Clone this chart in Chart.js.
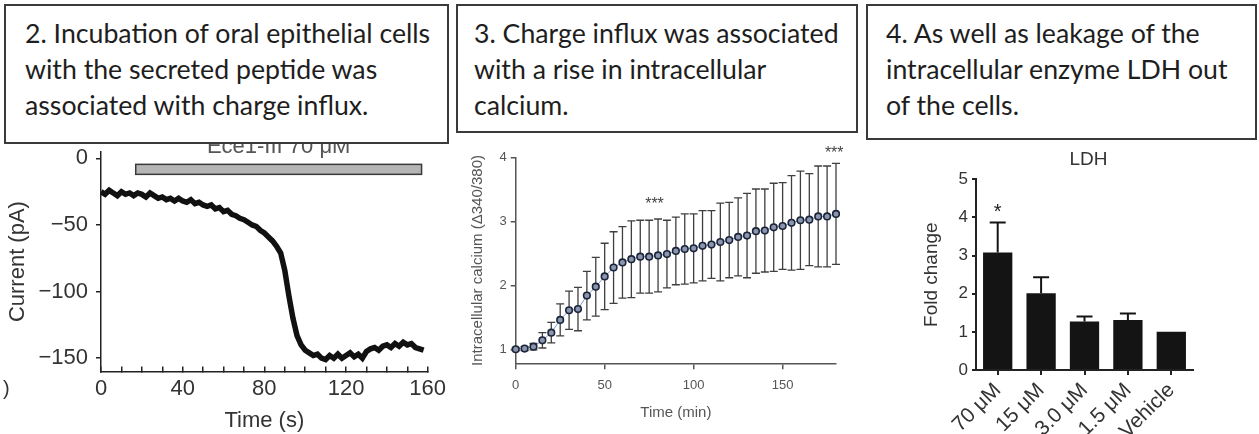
<!DOCTYPE html>
<html>
<head>
<meta charset="utf-8">
<script src="https://cdn.jsdelivr.net/npm/chart.js@4.4.1/dist/chart.umd.min.js"></script>
<style>
    body { margin: 0; background: #fff; }
    #page { position: relative; width: 1259px; height: 434px; overflow: hidden; background: #fff; }
    .box {
        position: absolute; z-index: 2; top: 4px; box-sizing: border-box;
        background: #fff; border: 2px solid #3a3a3a;
        font-family: Lato, sans-serif; font-size: 26.7px; line-height: 36px; color: #1e1e1e;
        white-space: nowrap; padding-top: 9px;
    }
    .plot { position: absolute; top: 140px; height: 294px; }
    #stray { position: absolute; left: 3px; top: 377px; font: 20px "Liberation Sans"; color: #333; }
</style>
</head>
<body>
<div id="page">
    <div class="box" style="left:4px;width:445px;height:140px;padding-left:19px;">2. Incubation of oral epithelial cells<br>with the secreted peptide was<br>associated with charge influx.</div>
    <div class="box" style="left:456px;width:402px;height:129px;padding-left:16px;">3. Charge influx was associated<br>with a rise in intracellular<br>calcium.</div>
    <div class="box" style="left:866px;width:391px;height:136px;padding-left:18px;">4. As well as leakage of the<br>intracellular enzyme LDH out<br>of the cells.</div>

    <div class="plot" style="left:0;width:450px;"><canvas id="currentChart"></canvas></div>
    <div class="plot" style="left:455px;width:400px;"><canvas id="calciumChart"></canvas></div>
    <div class="plot" style="left:860px;width:399px;"><canvas id="ldhChart"></canvas></div>
    <div id="stray">)</div>
</div>

<script>
// --- panel 2: whole-cell current trace
const currentTime = [0, 2, 4, 6, 8, 10, 12, 14, 16, 18, 20, 22, 24, 26, 28, 30, 32, 34, 36, 38,
    40, 42, 44, 46, 48, 50, 52, 54, 56, 58, 60, 62, 64, 66, 68, 70, 72, 74, 76, 78,
    80, 82, 84, 86, 88, 90, 92, 94, 96, 98, 100, 102, 104, 106, 108, 110, 112, 114, 116, 118,
    120, 122, 124, 126, 128, 130, 132, 134, 136, 138, 140, 142, 144, 146, 148, 150, 152, 154, 156, 158];
const currentPa = [-25, -27, -24, -26, -28, -25, -27, -26, -28, -26, -27, -29, -26, -28, -30, -29, -31, -30, -32, -30,
    -32, -33, -31, -34, -33, -35, -36, -35, -38, -37, -40, -39, -42, -43, -45, -46, -48, -50, -51, -54,
    -56, -59, -62, -66, -71, -84, -103, -120, -133, -140, -144, -146, -148, -147, -150, -151, -148, -150, -147, -150,
    -148, -146, -149, -147, -150, -145, -143, -142, -144, -141, -140, -142, -139, -141, -138, -140, -139, -142, -143, -144];
const currentXTicks = [0, 40, 80, 120, 160];
const currentYTicks = [0, -50, -100, -150];
const drugLabel = 'Ece1-III 70 \u03bcM';
const drugTime = [17, 157];

// --- panel 3: intracellular calcium
const calciumTime = [0, 5, 10, 15, 20, 25, 30, 35, 40, 45, 50, 55, 60, 65, 70, 75, 80, 85, 90,
    95, 100, 105, 110, 115, 120, 125, 130, 135, 140, 145, 150, 155, 160, 165, 170, 175, 180];
const calciumMean = [1.00, 1.01, 1.04, 1.14, 1.26, 1.46, 1.61, 1.63, 1.84, 1.98, 2.14, 2.28, 2.36, 2.41, 2.45, 2.45, 2.47, 2.49, 2.54,
    2.57, 2.58, 2.62, 2.64, 2.68, 2.71, 2.76, 2.78, 2.85, 2.86, 2.91, 2.93, 2.98, 3.02, 3.03, 3.08, 3.08, 3.12];
const calciumErr = [0.02, 0.03, 0.05, 0.12, 0.16, 0.25, 0.30, 0.34, 0.38, 0.46, 0.52, 0.56, 0.56, 0.60, 0.57, 0.57, 0.57, 0.53, 0.53,
    0.55, 0.54, 0.55, 0.53, 0.61, 0.59, 0.61, 0.66, 0.66, 0.65, 0.69, 0.68, 0.74, 0.77, 0.72, 0.79, 0.79, 0.79];
const calciumXTicks = [0, 50, 100, 150];
const calciumYTicks = [1, 2, 3, 4];
const calciumStars = [[78, 3.33], [179, 4.13]];

// --- panel 4: LDH release
const ldhGroups = ['70 \u03bcM', '15 \u03bcM', '3.0 \u03bcM', '1.5 \u03bcM', 'Vehicle'];
const ldhFold = [3.08, 2.01, 1.27, 1.31, 1.00];
const ldhErr = [0.79, 0.42, 0.13, 0.17, 0];
const ldhStar = [0, 4.30];

const SANS = 'Liberation Sans';

function tickFont(size) {
    return { family: SANS, size: size };
}

// chart.js pads the chart area for edge tick labels; the axes here are placed by hand
function fixedAxis(size) {
    return s => {
        if (s.isHorizontal()) s.height = size; else s.width = size;
        s.paddingTop = s.paddingBottom = s.paddingLeft = s.paddingRight = 0;
    };
}

const drugBarPlugin = {
    id: 'drugBar',
    afterDatasetsDraw(chart) {
        const { ctx, scales: { x, y } } = chart;
        const x0 = x.getPixelForValue(drugTime[0]);
        const x1 = x.getPixelForValue(drugTime[1]);
        const top = y.getPixelForValue(-4.5);
        const bot = y.getPixelForValue(-12);
        ctx.save();
        ctx.fillStyle = '#b5b5b5';
        ctx.strokeStyle = '#3a3a3a';
        ctx.lineWidth = 1.5;
        ctx.fillRect(x0, top, x1 - x0, bot - top);
        ctx.strokeRect(x0, top, x1 - x0, bot - top);
        ctx.fillStyle = '#555';
        ctx.font = '22px "' + SANS + '"';
        ctx.textAlign = 'center';
        ctx.textBaseline = 'alphabetic';
        ctx.fillText(drugLabel, (x0 + x1) / 2, top - 11);
        ctx.restore();
    }
};

const calciumErrorPlugin = {
    id: 'calciumErr',
    beforeDatasetsDraw(chart) {
        const { ctx, scales: { x, y } } = chart;
        ctx.save();
        ctx.strokeStyle = '#3f3f3f';
        ctx.lineWidth = 1.3;
        calciumTime.forEach((t, i) => {
            const px = x.getPixelForValue(t);
            const hi = y.getPixelForValue(calciumMean[i] + calciumErr[i]);
            const lo = y.getPixelForValue(calciumMean[i] - calciumErr[i]);
            ctx.beginPath();
            ctx.moveTo(px, hi); ctx.lineTo(px, lo);
            ctx.moveTo(px - 4, hi); ctx.lineTo(px + 4, hi);
            ctx.moveTo(px - 4, lo); ctx.lineTo(px + 4, lo);
            ctx.stroke();
        });
        ctx.fillStyle = '#444';
        ctx.font = '16px "' + SANS + '"';
        ctx.textAlign = 'center';
        calciumStars.forEach(([t, v]) => {
            ctx.fillText('***', x.getPixelForValue(t), y.getPixelForValue(v) + 9);
        });
        ctx.restore();
    }
};

const ldhExtrasPlugin = {
    id: 'ldhExtras',
    afterDatasetsDraw(chart) {
        const { ctx, chartArea, scales: { x, y } } = chart;
        ctx.save();
        ctx.strokeStyle = '#141414';
        ctx.lineWidth = 2;
        ldhFold.forEach((v, i) => {
            if (!ldhErr[i]) return;
            const px = x.getPixelForValue(i);
            const top = y.getPixelForValue(v + ldhErr[i]);
            ctx.beginPath();
            ctx.moveTo(px, y.getPixelForValue(v)); ctx.lineTo(px, top);
            ctx.moveTo(px - 8, top); ctx.lineTo(px + 8, top);
            ctx.stroke();
        });
        ctx.fillStyle = '#222';
        ctx.textAlign = 'center';
        ctx.font = '20px "' + SANS + '"';
        ctx.fillText('*', x.getPixelForValue(ldhStar[0]), y.getPixelForValue(ldhStar[1]) + 12);
        ctx.fillStyle = '#333';
        ctx.font = '19px "' + SANS + '"';
        ctx.textBaseline = 'middle';
        ctx.fillText('LDH', (chartArea.left + chartArea.right) / 2 + 4, 20);
        ctx.restore();
    }
};

// panel 2
new Chart(document.getElementById('currentChart'), {
    type: 'line',
    data: {
        datasets: [{
            data: currentTime.map((t, i) => ({ x: t, y: currentPa[i] })),
            borderColor: '#111',
            borderWidth: 5.5,
            pointRadius: 0,
            tension: 0
        }]
    },
    options: {
        responsive: true,
        maintainAspectRatio: false,
        animation: false,
        layout: { padding: { top: 11.7, right: 22.3, left: 0, bottom: 0 } },
        plugins: { legend: { display: false }, tooltip: { enabled: false } },
        scales: {
            x: {
                type: 'linear', min: 0, max: 160,
                border: { color: '#222', width: 1.5 },
                grid: { drawOnChartArea: false, color: '#222', lineWidth: 1.5, tickLength: -5 },
                ticks: {
                    stepSize: 10, autoSkip: false, maxRotation: 0, color: '#333',
                    font: tickFont(22), padding: 9,
                    callback: v => currentXTicks.includes(v) ? String(v) : ''
                },
                title: { display: true, text: 'Time (s)', color: '#333', font: tickFont(22), padding: { top: 0, bottom: 0 } },
                afterFit: fixedAxis(62.5)
            },
            y: {
                min: -160, max: 5,
                afterBuildTicks: s => { s.ticks = currentYTicks.map(v => ({ value: v })); },
                border: { color: '#222', width: 1.5 },
                grid: { drawOnChartArea: false, color: '#222', lineWidth: 1.5, tickLength: 5 },
                ticks: { color: '#333', font: tickFont(22), padding: 8, callback: v => String(v).replace('-', '\u2212') },
                title: { display: true, text: 'Current (pA)', color: '#333', font: tickFont(22), padding: { top: 5, bottom: 0 } },
                afterFit: fixedAxis(101)
            }
        }
    },
    plugins: [drugBarPlugin]
});

// panel 3
new Chart(document.getElementById('calciumChart'), {
    type: 'line',
    data: {
        datasets: [{
            data: calciumTime.map((t, i) => ({ x: t, y: calciumMean[i] })),
            borderColor: '#7f9bd4',
            borderWidth: 1,
            pointRadius: 3.3,
            pointBorderWidth: 1.6,
            pointBorderColor: '#1c2438',
            pointBackgroundColor: '#8a96b0',
            clip: false
        }]
    },
    options: {
        responsive: true,
        maintainAspectRatio: false,
        animation: false,
        layout: { padding: { top: 17.7, right: 19, left: 0, bottom: 0 } },
        plugins: { legend: { display: false }, tooltip: { enabled: false } },
        scales: {
            x: {
                type: 'linear', min: 0, max: 180,
                afterBuildTicks: s => { s.ticks = calciumXTicks.map(v => ({ value: v })); },
                border: { color: '#555', width: 1.5 },
                grid: { drawOnChartArea: false, color: '#555', lineWidth: 1.5, tickLength: 6 },
                ticks: { color: '#555', font: tickFont(13), padding: 8, maxRotation: 0 },
                title: { display: true, text: 'Time (min)', color: '#555', font: tickFont(15), padding: { top: 0, bottom: 12 } },
                afterFit: fixedAxis(70.7)
            },
            y: {
                min: 0.78, max: 4,
                afterBuildTicks: s => { s.ticks = calciumYTicks.map(v => ({ value: v })); },
                border: { color: '#555', width: 1.5 },
                grid: { drawOnChartArea: false, color: '#555', lineWidth: 1.5, tickLength: 5 },
                ticks: { color: '#555', font: tickFont(13), padding: 4 },
                title: { display: true, text: 'Intracellular calcium (\u0394340/380)', color: '#555', font: tickFont(15), padding: { top: 14, bottom: 0 } },
                afterFit: fixedAxis(60.7)
            }
        }
    },
    plugins: [calciumErrorPlugin]
});

// panel 4
new Chart(document.getElementById('ldhChart'), {
    type: 'bar',
    data: {
        labels: ldhGroups,
        datasets: [{
            data: ldhFold,
            backgroundColor: '#141414',
            borderWidth: 0,
            barPercentage: 0.675,
            categoryPercentage: 1
        }]
    },
    options: {
        responsive: true,
        maintainAspectRatio: false,
        animation: false,
        layout: { padding: { top: 39.3, right: 66, left: 0, bottom: 0 } },
        plugins: { legend: { display: false }, tooltip: { enabled: false } },
        scales: {
            x: {
                border: { color: '#222', width: 2 },
                grid: { drawOnChartArea: false, offset: false, color: '#222', lineWidth: 2, tickLength: 5 },
                ticks: { color: '#333', font: tickFont(21), padding: 3, minRotation: 45, maxRotation: 45, autoSkip: false },
                afterFit: fixedAxis(64)
            },
            y: {
                min: 0, max: 5,
                border: { color: '#222', width: 2 },
                grid: { drawOnChartArea: false, color: '#222', lineWidth: 2, tickLength: 4 },
                ticks: { stepSize: 1, color: '#333', font: tickFont(17), padding: 4 },
                title: { display: true, text: 'Fold change', color: '#333', font: tickFont(19), padding: { top: 60.6, bottom: 0 } },
                afterFit: fixedAxis(116)
            }
        }
    },
    plugins: [ldhExtrasPlugin]
});
</script>
</body>
</html>
